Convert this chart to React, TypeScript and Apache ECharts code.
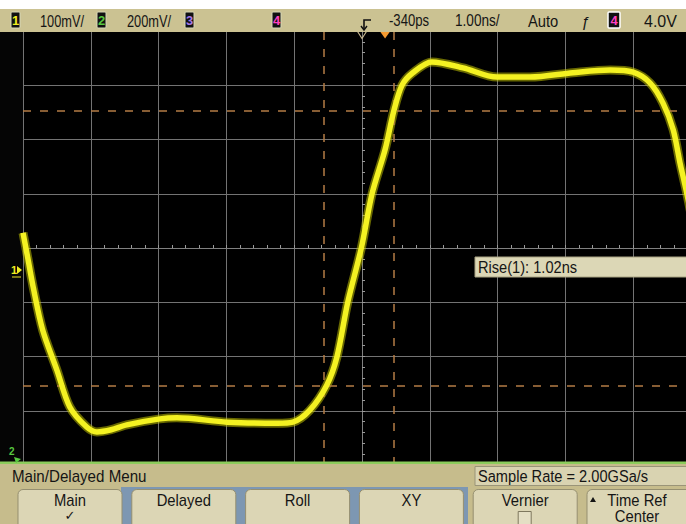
import React, { useEffect, useRef } from "react";
import * as echarts from "echarts";

// Waveform (channel 1) — time and level in screen divisions
const timeDiv = [
  -5.0, -4.93, -4.85, -4.71, -4.5, -4.31, -4.06, -3.91, -3.7, -3.47, -2.98, -2.73,
  -1.99, -1.25, -1.02, -0.77, -0.52, -0.37, -0.21, -0.01, 0.15, 0.34, 0.47, 0.59,
  0.75, 1.03, 1.49, 1.99, 2.48, 3.11, 3.66, 4.0, 4.25, 4.44, 4.59, 4.69, 4.78, 4.87,
];
const levelDiv = [
  0.28, -0.18, -0.72, -1.51, -2.25, -2.93, -3.3, -3.39, -3.35, -3.26, -3.15, -3.13,
  -3.21, -3.23, -3.21, -2.99, -2.53, -2.01, -1.0, 0.0, 1.01, 1.81, 2.53, 3.0,
  3.23, 3.43, 3.32, 3.15, 3.15, 3.23, 3.28, 3.24, 3.04, 2.67, 2.18, 1.57, 1.07, 0.52,
];
// Rise-time cursors
const cursorTimes = [-0.56, 0.47];
const cursorLevels = [2.53, -2.54];
const triggerTime = 0.34;
const centerTime = 0;

// Status line texts
const topTexts = ["100mV/", "200mV/", "-340ps", "1.00ns/", "Auto", "4.0V"];
const channelNumbers = ["1", "2", "3", "4"];
const channelColors = ["#f0ee20", "#58c840", "#a478e8", "#ff40c0"];
const measurementText = "Rise(1): 1.02ns";
const menuTitle = "Main/Delayed Menu";
const sampleRateText = "Sample Rate = 2.00GSa/s";
const buttonLabels = [
  ["Main", "✓"],
  ["Delayed", ""],
  ["Roll", ""],
  ["XY", ""],
  ["Vernier", ""],
  ["Time Ref", "Center"],
];

const FONT = "'Liberation Sans', Arial, 'DejaVu Sans', sans-serif";

function txt(
  x: number,
  y: number,
  text: string,
  size: number,
  opts: { fill?: string; align?: string; scaleX?: number; weight?: string; style?: string } = {}
) {
  const align = opts.align || "left";
  return {
    type: "text",
    x,
    y,
    z: 120,
    silent: true,
    scaleX: opts.scaleX ?? 1,
    style: {
      text,
      fontSize: size,
      fontFamily: FONT,
      fontWeight: opts.weight || "normal",
      fontStyle: opts.style || "normal",
      fill: opts.fill || "#151515",
      align,
      textAlign: align,
      verticalAlign: "middle",
      textVerticalAlign: "middle",
    },
  };
}

function rect(x: number, y: number, w: number, h: number, style: any, r?: any, z = 110) {
  return {
    type: "rect",
    z,
    silent: true,
    shape: { x, y, width: w, height: h, r: r || 0 },
    style,
  };
}

export default function App() {
  const ref = useRef<HTMLDivElement>(null);

  useEffect(() => {
    if (!ref.current) return;
    const chart = echarts.init(ref.current, null, { renderer: "svg" });

    const graphics: any[] = [];
    // top status bar
    graphics.push(rect(0, 9, 686, 23, { fill: "#cbc292" }));
    const boxXs = [11, 97, 185, 272];
    boxXs.forEach((bx, i) => {
      graphics.push(rect(bx, 12, 9, 16, { fill: "#111", stroke: "#d8d8b8", lineWidth: 1 }, 1, 115));
      graphics.push(txt(bx + 4.5, 20.5, channelNumbers[i], 13, { fill: channelColors[i], align: "center", weight: "bold" }));
    });
    graphics.push(txt(40, 21, topTexts[0], 16, { scaleX: 0.8 }));
    graphics.push(txt(127, 21, topTexts[1], 16, { scaleX: 0.8 }));
    graphics.push(txt(389, 21, topTexts[2], 16, { scaleX: 0.82 }));
    graphics.push(txt(455, 21, topTexts[3], 16, { scaleX: 0.85 }));
    graphics.push(txt(528, 21, topTexts[4], 16, { scaleX: 0.92 }));
    graphics.push(txt(581, 21, "ƒ", 15, { style: "italic" }));
    graphics.push(rect(608, 12, 12, 16, { fill: "#111", stroke: "#ffffff", lineWidth: 1.5 }, 1, 115));
    graphics.push(txt(614, 20.5, channelNumbers[3], 13, { fill: channelColors[3], align: "center", weight: "bold" }));
    graphics.push(txt(644, 21, topTexts[5], 16, {}));
    // trigger position glyph
    graphics.push({
      type: "polyline",
      z: 120,
      silent: true,
      shape: { points: [[371, 20], [364, 20], [364, 30]] },
      style: { stroke: "#111", lineWidth: 1.6, fill: null },
    });
    graphics.push({
      type: "polyline",
      z: 120,
      silent: true,
      shape: { points: [[361, 26], [364, 30], [367, 26]] },
      style: { stroke: "#111", lineWidth: 1.4, fill: null },
    });

    // left margin column
    graphics.push(rect(0, 32, 23, 430, { fill: "#050505" }, 0, 1));
    // channel 1 ground marker
    graphics.push(txt(11, 270, "1", 11, { fill: channelColors[0], weight: "bold" }));
    graphics.push({
      type: "polygon",
      z: 120,
      silent: true,
      shape: { points: [[17, 266], [22, 270], [17, 274]] },
      style: { fill: channelColors[0] },
    });
    graphics.push({
      type: "polyline",
      z: 120,
      silent: true,
      shape: { points: [[12, 277], [21, 277]] },
      style: { stroke: "#c8c020", lineWidth: 1.2, fill: null },
    });
    // channel 2 marker
    graphics.push(txt(9, 451, "2", 10, { fill: channelColors[1], weight: "bold" }));
    graphics.push({
      type: "polygon",
      z: 120,
      silent: true,
      shape: { points: [[14, 457], [21, 459], [16, 463]] },
      style: { fill: channelColors[1] },
    });

    // measurement box
    graphics.push(rect(475, 257, 220, 20, { fill: "#dcd7b6", stroke: "#a8a282", lineWidth: 1 }, 0, 110));
    graphics.push(txt(478, 267.5, measurementText, 17, { scaleX: 0.86 }));

    // bottom menu
    graphics.push(rect(0, 461.5, 686, 2.5, { fill: "#8ccc5c" }, 0, 112));
    graphics.push(rect(0, 464, 686, 60, { fill: "#c6bc8c" }));
    graphics.push(txt(12, 476, menuTitle, 17, { scaleX: 0.89 }));
    graphics.push(rect(475, 466.5, 215, 19, { fill: "#d9d3b1", stroke: "#9a9478", lineWidth: 1 }, 0, 112));
    graphics.push(txt(478, 476, sampleRateText, 17, { scaleX: 0.86 }));
    graphics.push(rect(121, 487, 347, 40, { fill: "#7d97b2" }, 0, 111));
    buttonLabels.forEach((lab, i) => {
      const left = 18 + i * 113.8;
      const cx = left + 52;
      graphics.push(rect(left, 489.5, 104, 40, { fill: "#dcd6b5", stroke: "#958f70", lineWidth: 1 }, [5, 5, 0, 0], 113));
      if (i === 5) {
        graphics.push({
          type: "polygon",
          z: 120,
          silent: true,
          shape: { points: [[590, 502], [596, 502], [593, 497]] },
          style: { fill: "#151515" },
        });
        graphics.push(txt(637, 500, lab[0], 17, { align: "center", scaleX: 0.87 }));
        graphics.push(txt(637, 516, lab[1], 17, { align: "center", scaleX: 0.87 }));
      } else {
        graphics.push(txt(cx, 500, lab[0], 17, { align: "center", scaleX: 0.87 }));
        if (lab[1]) graphics.push(txt(cx, 515, lab[1], 13, { align: "center" }));
      }
      if (i === 4) {
        graphics.push(rect(cx - 7, 511.5, 13, 13, { fill: "#e4dfc4", stroke: "#7e785e", lineWidth: 1 }, 0, 118));
      }
    });

    const axisCommon = {
      type: "value",
      axisLabel: { show: false },
      splitLine: { show: true, lineStyle: { color: "#737373", width: 1 } },
      axisLine: { show: true, onZero: true, lineStyle: { color: "#808080", width: 1 } },
      axisTick: { show: true, inside: true, length: 3, lineStyle: { color: "#9a9a9a" } },
      minorTick: { show: true, splitNumber: 5, length: 3, lineStyle: { color: "#9a9a9a" } },
    };

    const option: any = {
      animation: false,
      backgroundColor: "#ffffff",
      grid: {
        left: 23,
        top: 31,
        right: -15,
        height: 434,
        outerBoundsMode: "none",
        containLabel: false,
        show: true,
        backgroundColor: "#000000",
        borderWidth: 0,
      },
      xAxis: { ...axisCommon, min: -5, max: 5, interval: 1 },
      yAxis: { ...axisCommon, min: -4, max: 4, interval: 1 },
      graphic: { elements: graphics },
      series: [
        {
          type: "line",
          name: "cursors",
          data: [],
          z: 2,
          silent: true,
          markLine: {
            silent: true,
            symbol: ["none", "none"],
            label: { show: false },
            lineStyle: { color: "#b47c45", type: [8, 9], width: 1.5 },
            data: [
              ...cursorTimes.map((t) => ({ xAxis: t })),
              ...cursorLevels.map((v) => ({ yAxis: v })),
            ],
          },
          markPoint: {
            silent: true,
            label: { show: false },
            data: [
              {
                coord: [triggerTime, 4],
                symbol: "triangle",
                symbolRotate: 180,
                symbolSize: [10, 7],
                symbolOffset: [0, 4],
                itemStyle: { color: "#f59a30" },
              },
              {
                coord: [centerTime, 4],
                symbol: "triangle",
                symbolRotate: 180,
                symbolSize: [9, 7],
                symbolOffset: [0, 4],
                itemStyle: { color: "rgba(0,0,0,0)", borderColor: "#c8b890", borderWidth: 1 },
              },
            ],
          },
        },
        {
          type: "line",
          name: "Channel 1 glow",
          data: timeDiv.map((t, i) => [t, levelDiv[i]]),
          showSymbol: false,
          smooth: 0.3,
          silent: true,
          z: 4,
          lineStyle: { color: "rgba(190,190,0,0.55)", width: 9 },
        },
        {
          type: "line",
          name: "Channel 1",
          data: timeDiv.map((t, i) => [t, levelDiv[i]]),
          showSymbol: false,
          smooth: 0.3,
          silent: true,
          z: 5,
          lineStyle: { color: "#f4f222", width: 5.5 },
        },
      ],
    };

    chart.setOption(option);
    return () => chart.dispose();
  }, []);

  return (
    <div
      ref={ref}
      style={{ position: "absolute", left: 0, top: 0, width: 686, height: 524 }}
    />
  );
}
